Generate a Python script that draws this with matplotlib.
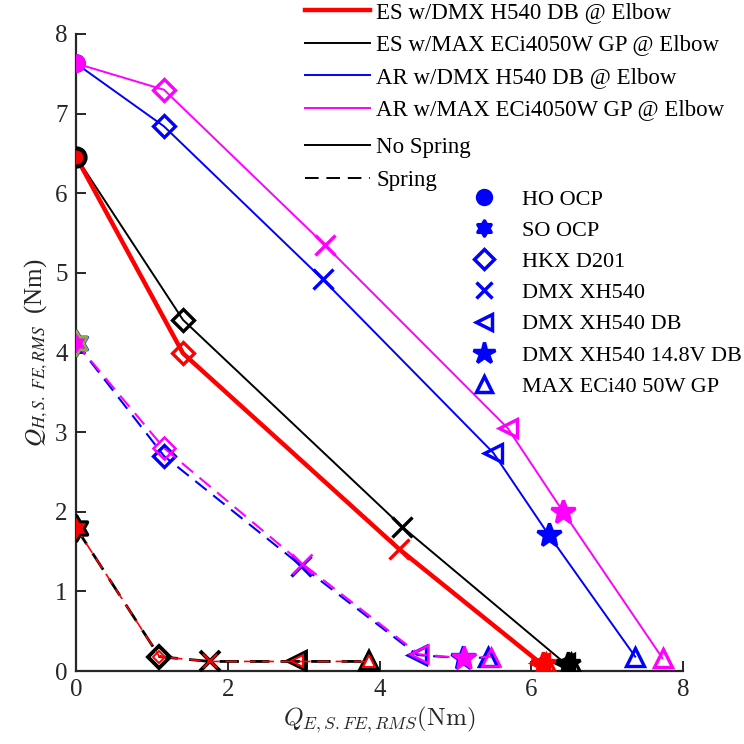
import numpy as np
import matplotlib
matplotlib.use("Agg")
import matplotlib.pyplot as plt
from matplotlib.lines import Line2D
from matplotlib.path import Path

# elbow torque (x) vs hip torque (y), RMS values in Nm
# each series: HO OCP, HKX D201, DMX XH540, DMX XH540 DB, DMX XH540 14.8V DB, MAX ECi40 50W GP
es_dmx_x = [0.0, 1.41, 4.26, 6.12, 6.16, 6.20]
es_dmx_y = [6.46, 3.99, 1.53, 0.10, 0.09, 0.10]
es_max_x = [0.0, 1.41, 4.30, 6.44, 6.49, 6.52]
es_max_y = [6.46, 4.41, 1.81, 0.10, 0.09, 0.10]
ar_dmx_x = [0.0, 1.16, 3.25, 5.50, 6.23, 7.37]
ar_dmx_y = [7.63, 6.84, 4.92, 2.74, 1.71, 0.18]
ar_max_x = [0.0, 1.16, 3.28, 5.69, 6.42, 7.73]
ar_max_y = [7.63, 7.30, 5.35, 3.05, 2.00, 0.16]

# with spring; first point is SO OCP
es_dmx_spr_x = [0.0, 1.10, 1.76, 2.91, 3.86]
es_dmx_spr_y = [1.80, 0.18, 0.12, 0.12, 0.12]
es_max_spr_x = [0.0, 1.10, 1.76, 2.91, 3.86]
es_max_spr_y = [1.80, 0.18, 0.12, 0.12, 0.12]
ar_dmx_spr_x = [0.0, 1.16, 2.97, 4.50, 5.10, 5.43]
ar_dmx_spr_y = [4.12, 2.70, 1.32, 0.20, 0.16, 0.17]
ar_max_spr_x = [0.0, 1.16, 2.98, 4.52, 5.12, 5.47]
ar_max_spr_y = [4.12, 2.80, 1.35, 0.21, 0.16, 0.18]

series_labels = ["ES w/DMX H540 DB @ Elbow", "ES w/MAX ECi4050W GP @ Elbow",
                 "AR w/DMX H540 DB @ Elbow", "AR w/MAX ECi4050W GP @ Elbow"]
style_labels = ["No Spring", "Spring"]
actuator_labels = ["HO OCP", "SO OCP", "HKX D201", "DMX XH540", "DMX XH540 DB",
                   "DMX XH540 14.8V DB", "MAX ECi40 50W GP"]

# six-pointed star (two overlapping triangles)
ang = np.pi / 2 + np.arange(12) * np.pi / 6
rad = np.where(np.arange(12) % 2 == 0, 1.0, 1 / np.sqrt(3))
hex_verts = np.column_stack([rad * np.cos(ang), rad * np.sin(ang)])
HEX = Path(np.vstack([hex_verts, hex_verts[:1]]), closed=True)

plt.rcParams["font.family"] = ["Liberation Serif", "DejaVu Serif"]
FS = 18
LFS = 16.5
DASH = (0, (7, 4))

fig = plt.figure(figsize=(7.44, 7.44), dpi=100)
ax = fig.add_axes([76/744, 1-671/744, 607/744, 637/744])

marks_ns = ["o", "D", "x", "<", "*", "^"]
marks_sp = [HEX, "D", "x", "<", "*", "^"]
marks_es_sp = [HEX, "D", "x", "<", "^"]


def size_of(m):
    if m is HEX:
        return 18
    return {"o": 11, "D": 11, "x": 15, "<": 13, "*": 18, "^": 13}[m]


def draw(xs, ys, color, lw, marks, dashed=False, z=2, mew=2.4, ec=None, shrink=0):
    ls = DASH if dashed else "-"
    ax.plot(xs, ys, color=color, lw=lw, ls=ls, zorder=z)
    for i, (x, y) in enumerate(zip(xs, ys)):
        m = marks[i]
        filled = m is HEX or m in ("o", "*")
        fc = color if filled else "none"
        edge = ec if (i == 0 and ec is not None) else color
        ms = size_of(m) - (0 if i == 0 else shrink)
        ax.plot([x], [y], marker=m, ms=ms, mfc=fc, mec=edge, mew=mew,
                ls="none", zorder=z + 0.5)


# no spring
draw(ar_dmx_x, ar_dmx_y, "blue", 1.4, marks_ns, z=2)
draw(ar_max_x, ar_max_y, "magenta", 1.4, marks_ns, z=3)
draw(es_max_x, es_max_y, "black", 1.4, marks_ns, z=4)
draw(es_dmx_x, es_dmx_y, "red", 3.2, marks_ns, z=5, ec="black")
ax.plot([es_dmx_x[0]], [es_dmx_y[0]], marker="o", ms=13, mfc="red", mec="black",
        mew=3, ls="none", zorder=6)

# spring
draw(ar_dmx_spr_x, ar_dmx_spr_y, "blue", 1.5, marks_sp, dashed=True, z=2)
draw(ar_max_spr_x, ar_max_spr_y, "magenta", 1.5, marks_sp, dashed=True, z=3,
     ec="#86ad47", mew=1.8)
draw(es_max_spr_x, es_max_spr_y, "black", 2.0, marks_es_sp, dashed=True, z=4,
     mew=2.8)
draw(es_dmx_spr_x, es_dmx_spr_y, "red", 1.2, marks_es_sp, dashed=True, z=5,
     ec="black", mew=1.4, shrink=5)

ax.set_xlim(0, 8)
ax.set_ylim(0, 8)
ax.set_xticks([0, 2, 4, 6, 8])
ax.set_yticks(range(9))
for s in ["top", "right"]:
    ax.spines[s].set_visible(False)
for s in ["left", "bottom"]:
    ax.spines[s].set_linewidth(1.6)
    ax.spines[s].set_color("#262626")
ax.tick_params(direction="in", length=7, width=1.4, color="#262626",
               labelsize=FS, labelcolor="#262626", pad=6)

ax.set_xlabel(r"$Q_{E,S.FE,RMS}\mathrm{(Nm)}$", fontsize=FS, math_fontfamily="cm",
              labelpad=2, color="#262626")
ax.set_ylabel(r"$Q_{H,S.\ FE,RMS}$  (Nm)", fontsize=FS, math_fontfamily="stix",
              labelpad=4, color="#262626")

# legends
common = dict(loc="upper left", frameon=False, borderpad=0.0, borderaxespad=0)
h1 = [Line2D([], [], color="red", lw=3.2),
      Line2D([], [], color="black", lw=1.4),
      Line2D([], [], color="blue", lw=1.4),
      Line2D([], [], color="magenta", lw=1.4)]
leg1 = fig.legend(h1, series_labels, bbox_to_anchor=(305/744, 1-2/744),
                  fontsize=LFS, labelspacing=0.5,
                  handlelength=2.85, handletextpad=0.25, **common)

h2 = [Line2D([], [], color="black", lw=1.4),
      Line2D([], [], color="black", lw=1.4, ls=DASH)]
leg2 = fig.legend(h2, style_labels, bbox_to_anchor=(305/744, 1-137/744),
                  fontsize=LFS, labelspacing=0.5,
                  handlelength=2.85, handletextpad=0.25, **common)

mk = ["o", HEX, "D", "x", "<", "*", "^"]
mk_size = [10, 11, 10, 12, 11, 16, 11]
h3 = []
for m, ms in zip(mk, mk_size):
    filled = m is HEX or m in ("o", "*")
    h3.append(Line2D([], [], color="blue", ls="none", marker=m, ms=ms,
                     mfc="blue" if filled else "none", mec="blue", mew=2.5))
leg3 = fig.legend(h3, actuator_labels, bbox_to_anchor=(462/744, 1-189/744),
                  fontsize=16, labelspacing=0.48,
                  handlelength=2.0, handletextpad=0.7, **common)

fig.savefig("out.png", dpi=100)
